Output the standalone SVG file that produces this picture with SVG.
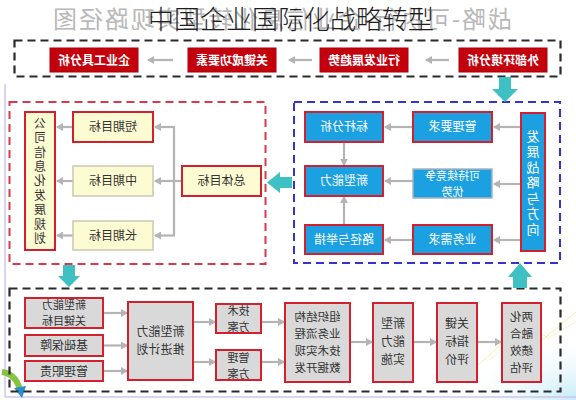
<svg xmlns="http://www.w3.org/2000/svg" width="576" height="400" viewBox="0 0 576 400">
<defs>
<style>
text{font-family:"Noto Sans CJK SC","Noto Sans CJK JP",sans-serif;}
.m{text-anchor:middle;font-size:12px;}
.v{writing-mode:vertical-rl;text-anchor:middle;}
.wb{fill:#fff;font-weight:bold;}
.w{fill:#fff;}
.d{fill:#333;}
.red{fill:#c4000c;stroke:#a80008;stroke-width:1;}
.yr{fill:#fdfbd2;stroke:#d3202e;stroke-width:2;}
.yg{fill:#fdfbd2;stroke:#c9c9b4;stroke-width:1.5;}
.br{fill:#1ba0e2;stroke:#d3202e;stroke-width:2;}
.bg{fill:#1ba0e2;stroke:#a9b4bf;stroke-width:1.5;}
.gr{fill:#d9d9d9;stroke:#d3202e;stroke-width:2;}
.conn{stroke:#b4b4b4;stroke-width:2.2;fill:none;}
.arr{marker-end:url(#ah);}
.teal{fill:#3fc0c2;}
</style>
<marker id="ah" markerWidth="8" markerHeight="8" refX="6" refY="4" orient="auto" markerUnits="userSpaceOnUse">
<path d="M0,0 L7,4 L0,8 Z" fill="#b4b4b4"/>
</marker>
<radialGradient id="glow" cx="1" cy="1" r="1">
<stop offset="0" stop-color="#b8e6f5" stop-opacity="0.8"/>
<stop offset="1" stop-color="#e8f6fb" stop-opacity="0"/>
</radialGradient>
</defs>
<rect width="576" height="400" fill="#fff"/>
<!-- background decorations -->
<rect x="470" y="340" width="106" height="60" fill="url(#glow)"/>
<polyline points="478,365 515,332 535,346 576,312" fill="none" stroke="#f2e58a" stroke-width="1" opacity="0.7"/>
<polyline points="490,360 528,325 548,338 576,322" fill="none" stroke="#f2e58a" stroke-width="1" opacity="0.5"/>
<line x1="5" y1="84" x2="5" y2="397" stroke="#cbc6ee" stroke-width="1.5"/>
<line x1="5" y1="397" x2="576" y2="397" stroke="#cbc6ee" stroke-width="1.5"/>
<path d="M2,372 Q16,374 20,390" fill="none" stroke="#86c440" stroke-width="6"/>
<path d="M14,388 L26,386 L22,398 Z" fill="#2a8fd0"/>

<!-- titles -->
<text x="-512" y="28" transform="scale(-1,1)" font-size="24" fill="#b8b8b8" textLength="459" lengthAdjust="spacing">战略-可执行-企业信息化转型实现路径图</text>
<text x="291" y="29" text-anchor="middle" font-size="26" font-weight="300" fill="#1e1e1e">中国企业国际化战略转型</text>

<!-- frames -->
<rect x="14.5" y="40.5" width="546" height="36" fill="none" stroke="#2a2a2a" stroke-width="2.2" stroke-dasharray="8 5"/>
<rect x="9.5" y="102" width="256" height="162" fill="none" stroke="#d83a4c" stroke-width="2" stroke-dasharray="8 5"/>
<rect x="294" y="102" width="266" height="161" fill="none" stroke="#3434cc" stroke-width="2" stroke-dasharray="8 5"/>
<rect x="9.5" y="288.5" width="551" height="103" fill="none" stroke="#2a2a2a" stroke-width="2.2" stroke-dasharray="8 5"/>

<!-- connectors -->
<g id="connectors">
<line class="conn arr" x1="173" y1="60" x2="148" y2="60"/>
<line class="conn arr" x1="312" y1="60" x2="289" y2="60"/>
<line class="conn arr" x1="449" y1="60" x2="426" y2="60"/>
<polygon class="teal" points="499,77 511,77 511,89 518,89 505,102 492,89 499,89"/>
<polygon class="teal" points="292,177 292,188 280,188 280,193 267,182.5 280,172 280,177"/>
<polygon class="teal" points="63,265 75,265 75,276 80,276 69,287 58,276 63,276"/>
<polygon class="teal" points="520,263 532,277 527,277 527,288 513,288 513,277 508,277"/>
<line class="conn arr" x1="182" y1="181" x2="155" y2="181"/>
<line class="conn" x1="174" y1="127" x2="174" y2="235.5"/>
<line class="conn arr" x1="175" y1="127" x2="155" y2="127"/>
<line class="conn arr" x1="175" y1="235.5" x2="155" y2="235.5"/>
<line class="conn arr" x1="73" y1="127" x2="57" y2="127"/>
<line class="conn arr" x1="73" y1="181" x2="57" y2="181"/>
<line class="conn arr" x1="73" y1="235.5" x2="57" y2="235.5"/>
<line class="conn arr" x1="521" y1="127" x2="494" y2="127"/>
<line class="conn arr" x1="521" y1="184" x2="494" y2="184"/>
<line class="conn arr" x1="521" y1="240" x2="494" y2="240"/>
<line class="conn arr" x1="413" y1="127" x2="385" y2="127"/>
<line class="conn arr" x1="413" y1="181" x2="385" y2="181"/>
<line class="conn arr" x1="413" y1="240" x2="385" y2="240"/>
<line class="conn arr" x1="344" y1="142" x2="344" y2="165"/>
<line class="conn arr" x1="344" y1="225" x2="344" y2="197"/>
<line class="conn arr" x1="103" y1="313" x2="127" y2="313"/>
<line class="conn arr" x1="103" y1="345.5" x2="127" y2="345.5"/>
<line class="conn arr" x1="103" y1="371" x2="127" y2="371"/>
<line class="conn arr" x1="193" y1="322" x2="215" y2="322"/>
<line class="conn arr" x1="193" y1="362" x2="215" y2="362"/>
<line class="conn arr" x1="261" y1="322" x2="284" y2="322"/>
<line class="conn arr" x1="261" y1="362" x2="284" y2="362"/>
<line class="conn arr" x1="350" y1="342" x2="372" y2="342"/>
<line class="conn arr" x1="413" y1="342" x2="436" y2="342"/>
<line class="conn arr" x1="477" y1="342" x2="501" y2="342"/>
</g>

<!-- top row -->
<g id="n-tool"><rect class="red" x="50" y="48" width="88" height="24"/><text class="m wb" x="-94" y="64.5" transform="scale(-1,1)">企业工具分析</text></g>
<g id="n-ksf"><rect class="red" x="188" y="48" width="88" height="24"/><text class="m wb" x="-232" y="64.5" transform="scale(-1,1)">关键成功要素</text></g>
<g id="n-trend"><rect class="red" x="320" y="48" width="88" height="24"/><text class="m wb" x="-364" y="64.5" transform="scale(-1,1)">行业发展趋势</text></g>
<g id="n-env"><rect class="red" x="459" y="48" width="88" height="24"/><text class="m wb" x="-503" y="64.5" transform="scale(-1,1)">外部环境分析</text></g>

<!-- left group -->
<g id="n-plan"><rect class="yr" x="25" y="112" width="30" height="138"/>
<text class="v d" x="-40" y="182" transform="scale(-1,1)" style="font-size:12px;letter-spacing:2.4px">公司信息化发展规划</text></g>
<g id="n-short"><rect class="yr" x="73" y="112" width="80" height="30"/><text class="m d" x="-113" y="131" transform="scale(-1,1)">短期目标</text></g>
<g id="n-mid"><rect class="yg" x="73" y="166" width="80" height="30"/><text class="m d" x="-113" y="185" transform="scale(-1,1)">中期目标</text></g>
<g id="n-long"><rect class="yg" x="73" y="221" width="80" height="29"/><text class="m d" x="-113" y="240" transform="scale(-1,1)">长期目标</text></g>
<g id="n-total"><rect class="yr" x="182" y="166" width="79" height="30"/><text class="m d" x="-221.5" y="185" transform="scale(-1,1)">总体目标</text></g>

<!-- right group -->
<g id="n-bench"><rect class="br" x="305" y="112" width="78" height="30"/><text class="m w" x="-344" y="131" transform="scale(-1,1)">标杆分析</text></g>
<g id="n-mgmtreq"><rect class="br" x="413" y="112" width="79" height="30"/><text class="m w" x="-452.5" y="131" transform="scale(-1,1)">管理要求</text></g>
<g id="n-newcap"><rect class="br" x="305" y="166" width="78" height="30"/><text class="m w" x="-344" y="185" transform="scale(-1,1)">新型能力</text></g>
<g id="n-sustain"><rect class="bg" x="413" y="169" width="79" height="29"/><text class="m w" transform="scale(-1,1)" style="font-size:11px"><tspan x="-452.5" y="180">可持续竞争</tspan><tspan x="-452.5" y="196">优势</tspan></text></g>
<g id="n-path"><rect class="br" x="305" y="225" width="78" height="29"/><text class="m w" x="-344" y="244" transform="scale(-1,1)">路径与举措</text></g>
<g id="n-bizneed"><rect class="br" x="413" y="225" width="79" height="29"/><text class="m w" x="-452.5" y="244" transform="scale(-1,1)">业务需求</text></g>
<g id="n-strategy"><rect class="br" x="521" y="113" width="24" height="138"/>
<text class="v w" x="-533" y="183.5" transform="scale(-1,1)" style="font-size:13px;letter-spacing:2.5px">发展战略与方向</text></g>

<!-- bottom group -->
<g id="n-keygoal"><rect class="gr" x="25" y="298" width="78" height="30"/><text class="m d" transform="scale(-1,1)" style="font-size:11px"><tspan x="-64" y="308.5">新型能力</tspan><tspan x="-64" y="324.5">关键目标</tspan></text></g>
<g id="n-base"><rect class="gr" x="25" y="335" width="78" height="21"/><text class="m d" x="-64" y="350" transform="scale(-1,1)">基础保障</text></g>
<g id="n-duty"><rect class="gr" x="25" y="361" width="78" height="20"/><text class="m d" x="-64" y="375.5" transform="scale(-1,1)">管理职责</text></g>
<g id="n-plan2"><rect class="gr" x="128" y="302" width="65" height="78"/><text class="m d" transform="scale(-1,1)"><tspan x="-160.5" y="336">新型能力</tspan><tspan x="-160.5" y="354">推进计划</tspan></text></g>
<g id="n-tech"><rect class="gr" x="216" y="304" width="45" height="29"/><text class="m d" transform="scale(-1,1)" style="font-size:11px"><tspan x="-238.5" y="315">技术</tspan><tspan x="-238.5" y="331">方案</tspan></text></g>
<g id="n-mgmt"><rect class="gr" x="216" y="350" width="45" height="30"/><text class="m d" transform="scale(-1,1)" style="font-size:11px"><tspan x="-238.5" y="361.5">管理</tspan><tspan x="-238.5" y="377.5">方案</tspan></text></g>
<g id="n-org"><rect class="gr" x="285" y="303" width="65" height="79"/><text class="m d" transform="scale(-1,1)" style="font-size:11.5px"><tspan x="-317.5" y="321">组织结构</tspan><tspan x="-317.5" y="338">业务流程</tspan><tspan x="-317.5" y="355">技术实现</tspan><tspan x="-317.5" y="372">数据开发</tspan></text></g>
<g id="n-impl"><rect class="gr" x="373" y="303" width="40" height="79"/><text class="m d" transform="scale(-1,1)" style="font-size:12px"><tspan x="-393" y="328">新型</tspan><tspan x="-393" y="346">能力</tspan><tspan x="-393" y="364">实施</tspan></text></g>
<g id="n-kpi"><rect class="gr" x="437" y="303" width="40" height="79"/><text class="m d" transform="scale(-1,1)" style="font-size:12px"><tspan x="-457" y="328">关键</tspan><tspan x="-457" y="346">指标</tspan><tspan x="-457" y="364">评价</tspan></text></g>
<g id="n-eval"><rect class="gr" x="502" y="303" width="39" height="79"/><text class="m d" transform="scale(-1,1)" style="font-size:11.5px"><tspan x="-521.5" y="321">两化</tspan><tspan x="-521.5" y="338">融合</tspan><tspan x="-521.5" y="355">绩效</tspan><tspan x="-521.5" y="372">评估</tspan></text></g>
</svg>
